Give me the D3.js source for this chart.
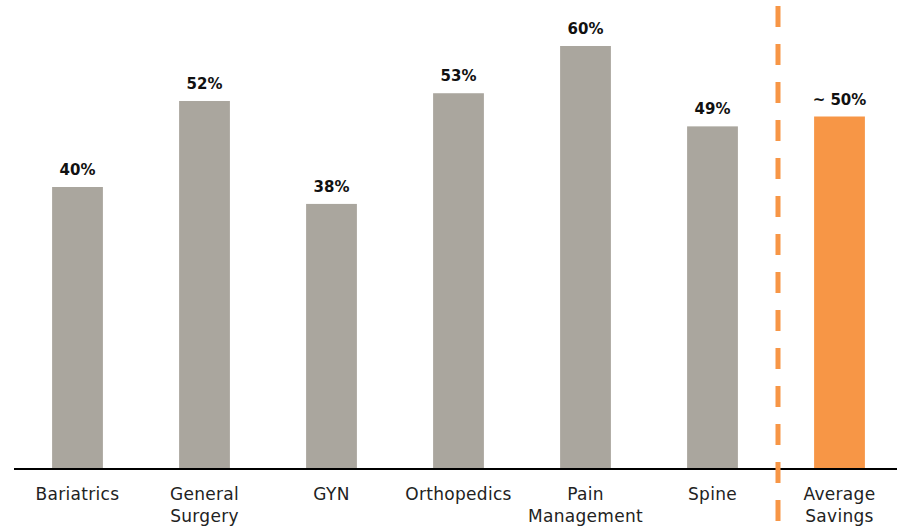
<!DOCTYPE html>
<html>
<head>
<meta charset="utf-8">
<script src="https://cdn.jsdelivr.net/npm/d3@7"></script>
<style>
  body { margin: 0; background: #fff; }
  text { font-family: "DejaVu Sans", sans-serif; }
</style>
</head>
<body>
<div id="chart"></div>
<script>
const categories = ["Bariatrics", "General Surgery", "GYN", "Orthopedics", "Pain Management", "Spine", "Average Savings"];
const labelLines = [["Bariatrics"], ["General", "Surgery"], ["GYN"], ["Orthopedics"], ["Pain", "Management"], ["Spine"], ["Average", "Savings"]];
// bar heights (labels are the rounded figures)
const savings = [40, 52.2, 37.6, 53.3, 60, 48.6, 50];
const valueLabels = ["40%", "52%", "38%", "53%", "60%", "49%", "~ 50%"];

const width = 901, height = 528;
const baseY = 469;

const svg = d3.select("#chart").append("svg")
    .attr("width", width)
    .attr("height", height);

const x = d3.scaleBand()
    .domain(categories)
    .range([14, 903])
    .paddingInner(0.6)
    .paddingOuter(0.3);

const y = d3.scaleLinear()
    .domain([0, 60])
    .range([baseY, 46]);

// bars
svg.selectAll("rect.bar")
    .data(categories)
    .enter().append("rect")
    .attr("class", "bar")
    .attr("x", d => x(d))
    .attr("y", (d, i) => y(savings[i]))
    .attr("width", x.bandwidth())
    .attr("height", (d, i) => baseY - y(savings[i]))
    .attr("fill", (d, i) => i === categories.length - 1 ? "#f79646" : "#aaa69e");

// value labels
svg.selectAll("text.val")
    .data(categories)
    .enter().append("text")
    .attr("class", "val")
    .attr("x", d => x(d) + x.bandwidth() / 2)
    .attr("y", (d, i) => y(savings[i]) - 12)
    .attr("text-anchor", "middle")
    .attr("font-size", 15)
    .attr("font-weight", "bold")
    .attr("fill", "#111")
    .text((d, i) => valueLabels[i]);

// baseline
svg.append("line")
    .attr("x1", 14).attr("x2", 897)
    .attr("y1", baseY).attr("y2", baseY)
    .attr("stroke", "#000")
    .attr("stroke-width", 2);

// dashed separator before the average bar
const sepX = (x(categories[5]) + x.bandwidth() + x(categories[6])) / 2 + 2;
svg.append("line")
    .attr("x1", sepX).attr("x2", sepX)
    .attr("y1", 6).attr("y2", 522)
    .attr("stroke", "#f79646")
    .attr("stroke-width", 5)
    .attr("stroke-dasharray", "21,17");

// category labels
const cat = svg.selectAll("text.cat")
    .data(categories)
    .enter().append("text")
    .attr("class", "cat")
    .attr("x", d => x(d) + x.bandwidth() / 2)
    .attr("y", 500)
    .attr("text-anchor", "middle")
    .attr("font-size", 17)
    .attr("letter-spacing", 0.3)
    .attr("fill", "#222");

cat.selectAll("tspan")
    .data((d, i) => labelLines[i])
    .enter().append("tspan")
    .attr("x", function() { return this.parentNode.getAttribute("x"); })
    .attr("dy", (d, j) => j === 0 ? 0 : 22)
    .text(d => d);
</script>
</body>
</html>
